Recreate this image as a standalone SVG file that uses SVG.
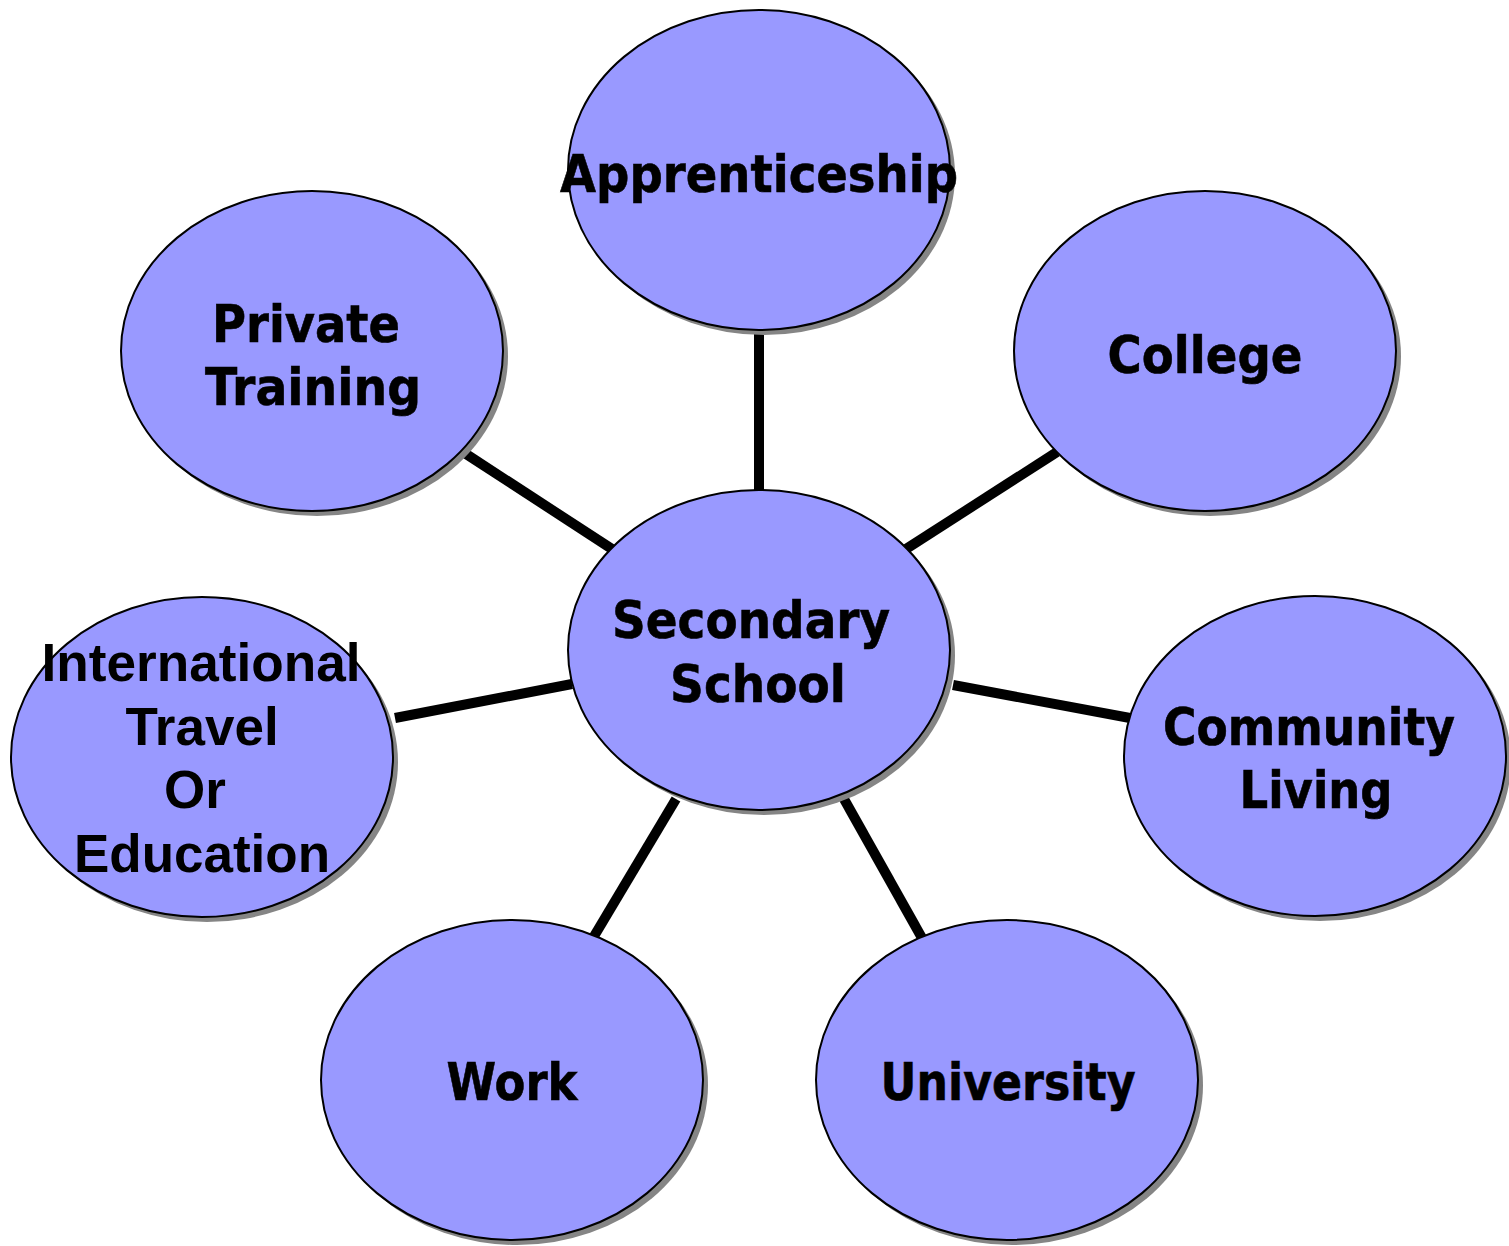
<svg xmlns="http://www.w3.org/2000/svg" width="1509" height="1246" viewBox="0 0 1509 1246">
<style>
.sh{fill:#858585;}
.nd{fill:#9999FF;stroke:#000;stroke-width:2;}
.t{font-family:"DejaVu Sans",Verdana,sans-serif;font-weight:bold;font-size:52px;fill:#000;stroke:#000;stroke-width:0.6;text-anchor:middle;}
.a{font-family:"Liberation Sans",Arial,sans-serif;font-weight:bold;font-size:53px;fill:#000;text-anchor:middle;}
.c{stroke:#000;stroke-width:10;fill:none;}
</style>
<rect width="1509" height="1246" fill="#fff"/>
<g id="connectors">
<line class="c" x1="759" y1="334" x2="759" y2="492"/>
<line class="c" x1="463" y1="452" x2="612" y2="549"/>
<line class="c" x1="1057" y1="452" x2="906" y2="549"/>
<line class="c" x1="395" y1="718" x2="572" y2="684"/>
<line class="c" x1="953" y1="685" x2="1130" y2="718"/>
<line class="c" x1="593" y1="938" x2="676" y2="799"/>
<line class="c" x1="922" y1="938" x2="844" y2="799"/>
</g>
<g id="apprenticeship">
<ellipse class="sh" cx="764" cy="175" rx="191" ry="160"/>
<ellipse class="nd" cx="759" cy="170" rx="191" ry="160"/>
<text class="t" x="759" y="192" textLength="398" lengthAdjust="spacingAndGlyphs">Apprenticeship</text>
</g>
<g id="secondary-school">
<ellipse class="sh" cx="764" cy="655" rx="191" ry="160"/>
<ellipse class="nd" cx="759" cy="650" rx="191" ry="160"/>
<text class="t" x="751" y="638" textLength="278" lengthAdjust="spacingAndGlyphs">Secondary</text>
<text class="t" x="758" y="702" textLength="176" lengthAdjust="spacingAndGlyphs">School</text>
</g>
<g id="private-training">
<ellipse class="sh" cx="317" cy="356" rx="191" ry="160"/>
<ellipse class="nd" cx="312" cy="351" rx="191" ry="160"/>
<text class="t" x="306" y="342" textLength="188" lengthAdjust="spacingAndGlyphs">Private</text>
<text class="t" x="313" y="405" textLength="216" lengthAdjust="spacingAndGlyphs">Training</text>
</g>
<g id="college">
<ellipse class="sh" cx="1210" cy="356" rx="191" ry="160"/>
<ellipse class="nd" cx="1205" cy="351" rx="191" ry="160"/>
<text class="t" x="1205" y="373" textLength="195" lengthAdjust="spacingAndGlyphs">College</text>
</g>
<g id="international">
<ellipse class="sh" cx="207" cy="762" rx="191" ry="160"/>
<ellipse class="nd" cx="202" cy="757" rx="191" ry="160"/>
<text class="a" x="201" y="681" textLength="319" lengthAdjust="spacingAndGlyphs">International</text>
<text class="a" x="202" y="745">Travel</text>
<text class="a" x="195" y="808">Or</text>
<text class="a" x="202" y="872">Education</text>
</g>
<g id="community-living">
<ellipse class="sh" cx="1320" cy="761" rx="191" ry="160"/>
<ellipse class="nd" cx="1315" cy="756" rx="191" ry="160"/>
<text class="t" x="1309" y="745" textLength="292" lengthAdjust="spacingAndGlyphs">Community</text>
<text class="t" x="1316" y="808" textLength="153" lengthAdjust="spacingAndGlyphs">Living</text>
</g>
<g id="work">
<ellipse class="sh" cx="517" cy="1085" rx="191" ry="160"/>
<ellipse class="nd" cx="512" cy="1080" rx="191" ry="160"/>
<text class="t" x="512" y="1100" textLength="131" lengthAdjust="spacingAndGlyphs">Work</text>
</g>
<g id="university">
<ellipse class="sh" cx="1012" cy="1085" rx="191" ry="160"/>
<ellipse class="nd" cx="1007" cy="1080" rx="191" ry="160"/>
<text class="t" x="1008" y="1100" textLength="255" lengthAdjust="spacingAndGlyphs">University</text>
</g>
</svg>
